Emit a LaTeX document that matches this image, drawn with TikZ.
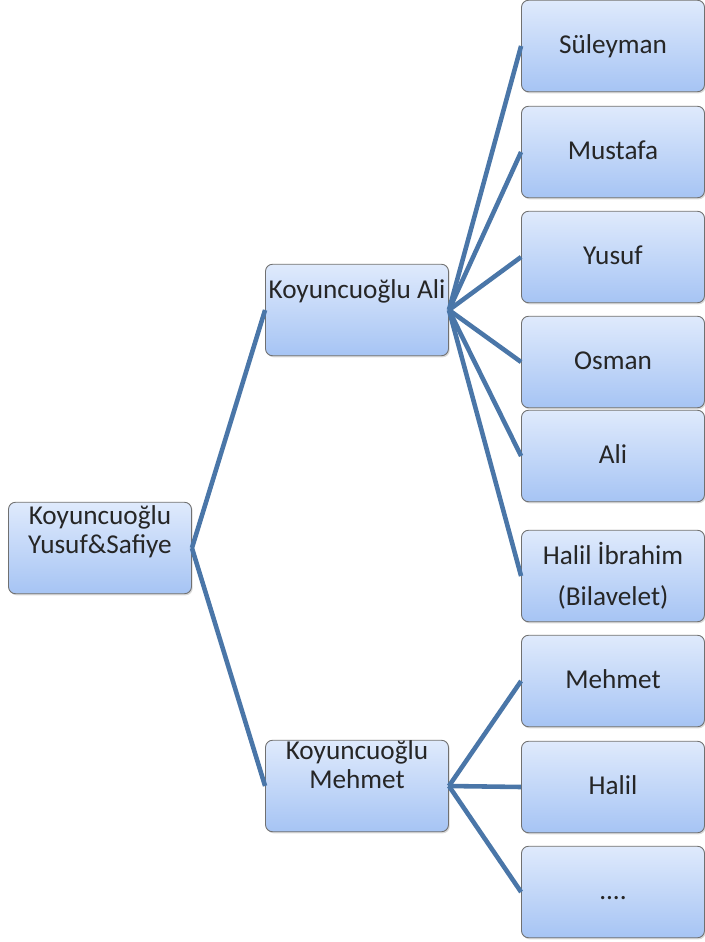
\documentclass[tikz,border=0pt]{standalone}
\usepackage{fontspec}
\setmainfont{Carlito}
\usetikzlibrary{shadows}

\definecolor{boxtop}{RGB}{223,234,252}
\definecolor{boxbottom}{RGB}{166,196,244}
\definecolor{boxedge}{RGB}{112,112,112}
\definecolor{linkblue}{RGB}{74,118,168}

\begin{document}
\begin{tikzpicture}[x=0.02cm, y=-0.02cm,
  box/.style={draw=boxedge, line width=0.5pt, rounded corners=0.14cm,
    top color=boxtop, bottom color=boxbottom,
    minimum width=3.66cm, minimum height=1.83cm, inner sep=0pt,
    drop shadow={opacity=0.3, shadow xshift=0.7pt, shadow yshift=-0.9pt},
    font=\fontsize{15.5}{16.5}\selectfont, text=black!85, align=center},
  leaf/.style={box, text height=0.9em, text depth=0.1em},
  txt/.style={font=\fontsize{15.5}{16.5}\selectfont, text=black!85, align=center, inner sep=0pt},
  link/.style={draw=linkblue, line width=2.6pt}]

\useasboundingbox (0,0) rectangle (705,942);

\node[box] (root) at (100,548) {};
\node[txt] (roottxt) at (100,532) {Koyuncuoğlu\\Yusuf\&Safiye};

\node[box] (ali) at (357,310) {};
\node[txt] (alitxt) at (357,291) {Koyuncuoğlu Ali};

\node[box] (mehmet) at (357,786) {};
\node[txt] (mehmettxt) at (357,765) {Koyuncuoğlu\\Mehmet};

\node[leaf] (suleyman) at (613,46) {Süleyman};
\node[leaf] (mustafa) at (613,152) {Mustafa};
\node[leaf] (yusuf) at (613,257) {Yusuf};
\node[leaf] (osman) at (613,362) {Osman};
\node[leaf] (alison) at (613,456) {Ali};
\node[box] (halilib) at (613,576) {Halil İbrahim\\[7pt](Bilavelet)};
\node[leaf] (mehmetson) at (613,681) {Mehmet};
\node[leaf] (halil) at (613,787) {Halil};
\node[leaf] (dots) at (613,892) {....};

\draw[link] (root.east) to (ali.west);
\draw[link] (root.east) to (mehmet.west);

\draw[link] (ali.east) to (suleyman.west);
\draw[link] (ali.east) to (mustafa.west);
\draw[link] (ali.east) to (yusuf.west);
\draw[link] (ali.east) to (osman.west);
\draw[link] (ali.east) to (alison.west);
\draw[link] (ali.east) to (halilib.west);

\draw[link] (mehmet.east) to (mehmetson.west);
\draw[link] (mehmet.east) to (halil.west);
\draw[link] (mehmet.east) to (dots.west);
\end{tikzpicture}
\end{document}
